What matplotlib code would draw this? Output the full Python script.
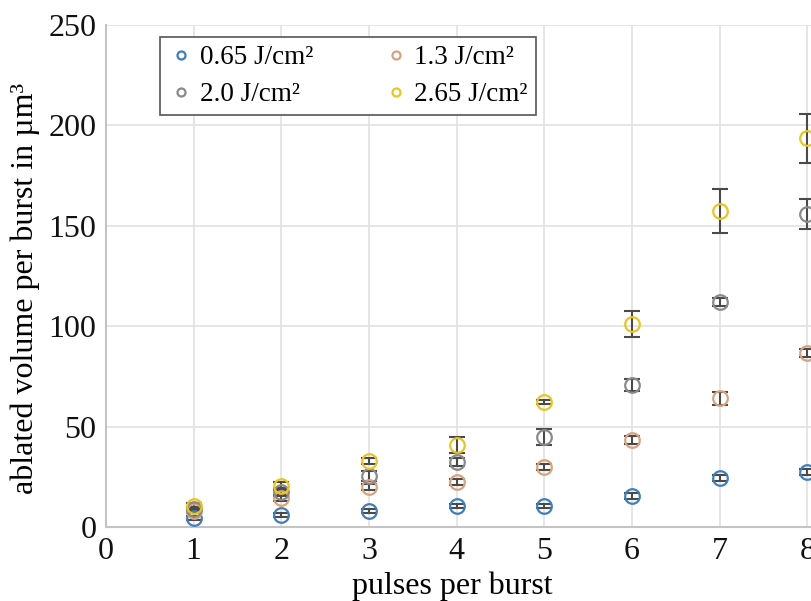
import matplotlib
matplotlib.use('Agg')
import matplotlib.pyplot as plt

plt.rcParams['font.family'] = ['Liberation Serif', 'DejaVu Serif']

# pulses per burst
pulses = [1, 2, 3, 4, 5, 6, 7, 8]

# ablated volume per burst (um^3) and error for each fluence
vol_065 = [4.5, 6.0, 8.0, 10.4, 10.4, 15.5, 24.4, 27.4]
err_065 = [1.0, 1.0, 1.0, 1.0, 1.0, 1.5, 1.5, 1.5]
vol_13 = [8.0, 14.5, 19.9, 22.4, 29.9, 43.5, 64.0, 86.6]
err_13 = [1.0, 1.5, 1.5, 1.5, 1.5, 2.0, 3.0, 2.0]
vol_20 = [9.0, 17.5, 25.4, 32.3, 44.8, 70.6, 112.0, 156.0]
err_20 = [1.0, 2.0, 2.5, 2.0, 4.0, 3.0, 2.0, 7.5]
vol_265 = [10.4, 20.5, 33.0, 40.8, 62.2, 101.0, 157.5, 193.5]
err_265 = [1.5, 2.0, 1.5, 4.0, 1.0, 6.5, 11.0, 12.0]

series = [
    ('0.65 J/cm²', vol_065, err_065, '#3d7ebf'),
    ('1.3 J/cm²', vol_13, err_13, '#dba17c'),
    ('2.0 J/cm²', vol_20, err_20, '#8a8a8a'),
    ('2.65 J/cm²', vol_265, err_265, '#e8c61c'),
]

fig = plt.figure(figsize=(8.11, 6.01), dpi=100)
ax = fig.add_axes([106 / 811, 74 / 601, 705 / 811, 502 / 601])

handles = []
for label, vol, err, color in series:
    ax.errorbar(pulses, vol, yerr=err, fmt='none', ecolor='#4a4a4a',
                elinewidth=1.5, capsize=6, capthick=1.5, zorder=3)
    h, = ax.plot(pulses, vol, linestyle='none', marker='o', markersize=10.5,
                 markerfacecolor='none', markeredgecolor=color,
                 markeredgewidth=1.6, label=label, zorder=4)
    handles.append(h)

ax.set_xlim(0, 8.04)
ax.set_ylim(0, 250)
ax.set_xticks(range(0, 9))
ax.set_yticks(range(0, 251, 50))
ax.grid(True, color='#e2e2e2', linewidth=1.2)
ax.set_axisbelow(True)
for side in ['top', 'right']:
    ax.spines[side].set_visible(False)
for side in ['left', 'bottom']:
    ax.spines[side].set_color('#c4c4c4')
    ax.spines[side].set_linewidth(1.5)
ax.tick_params(length=0, labelsize=23, colors='#111111', pad=7)

ax.set_xlabel('pulses per burst', fontsize=23)
ax.set_ylabel('ablated volume per burst in µm³', fontsize=23)
ax.xaxis.set_label_coords(0.491, -0.088)
ax.yaxis.set_label_coords(-0.093, 0.475)

# row-wise legend order: 0.65, 1.3 / 2.0, 2.65
order = [0, 2, 1, 3]
leg = ax.legend([handles[i] for i in order],
                [series[i][0] for i in order],
                loc='upper left', bbox_to_anchor=(0.077, 0.976), ncol=2,
                fontsize=19.5, markerscale=0.55, handletextpad=0.25,
                handlelength=0.9, columnspacing=2.6, borderaxespad=0,
                fancybox=False, framealpha=1, edgecolor='#555555',
                borderpad=0.3, labelspacing=0.45)
leg.get_frame().set_linewidth(1.2)

fig.savefig('out.png', dpi=100)
